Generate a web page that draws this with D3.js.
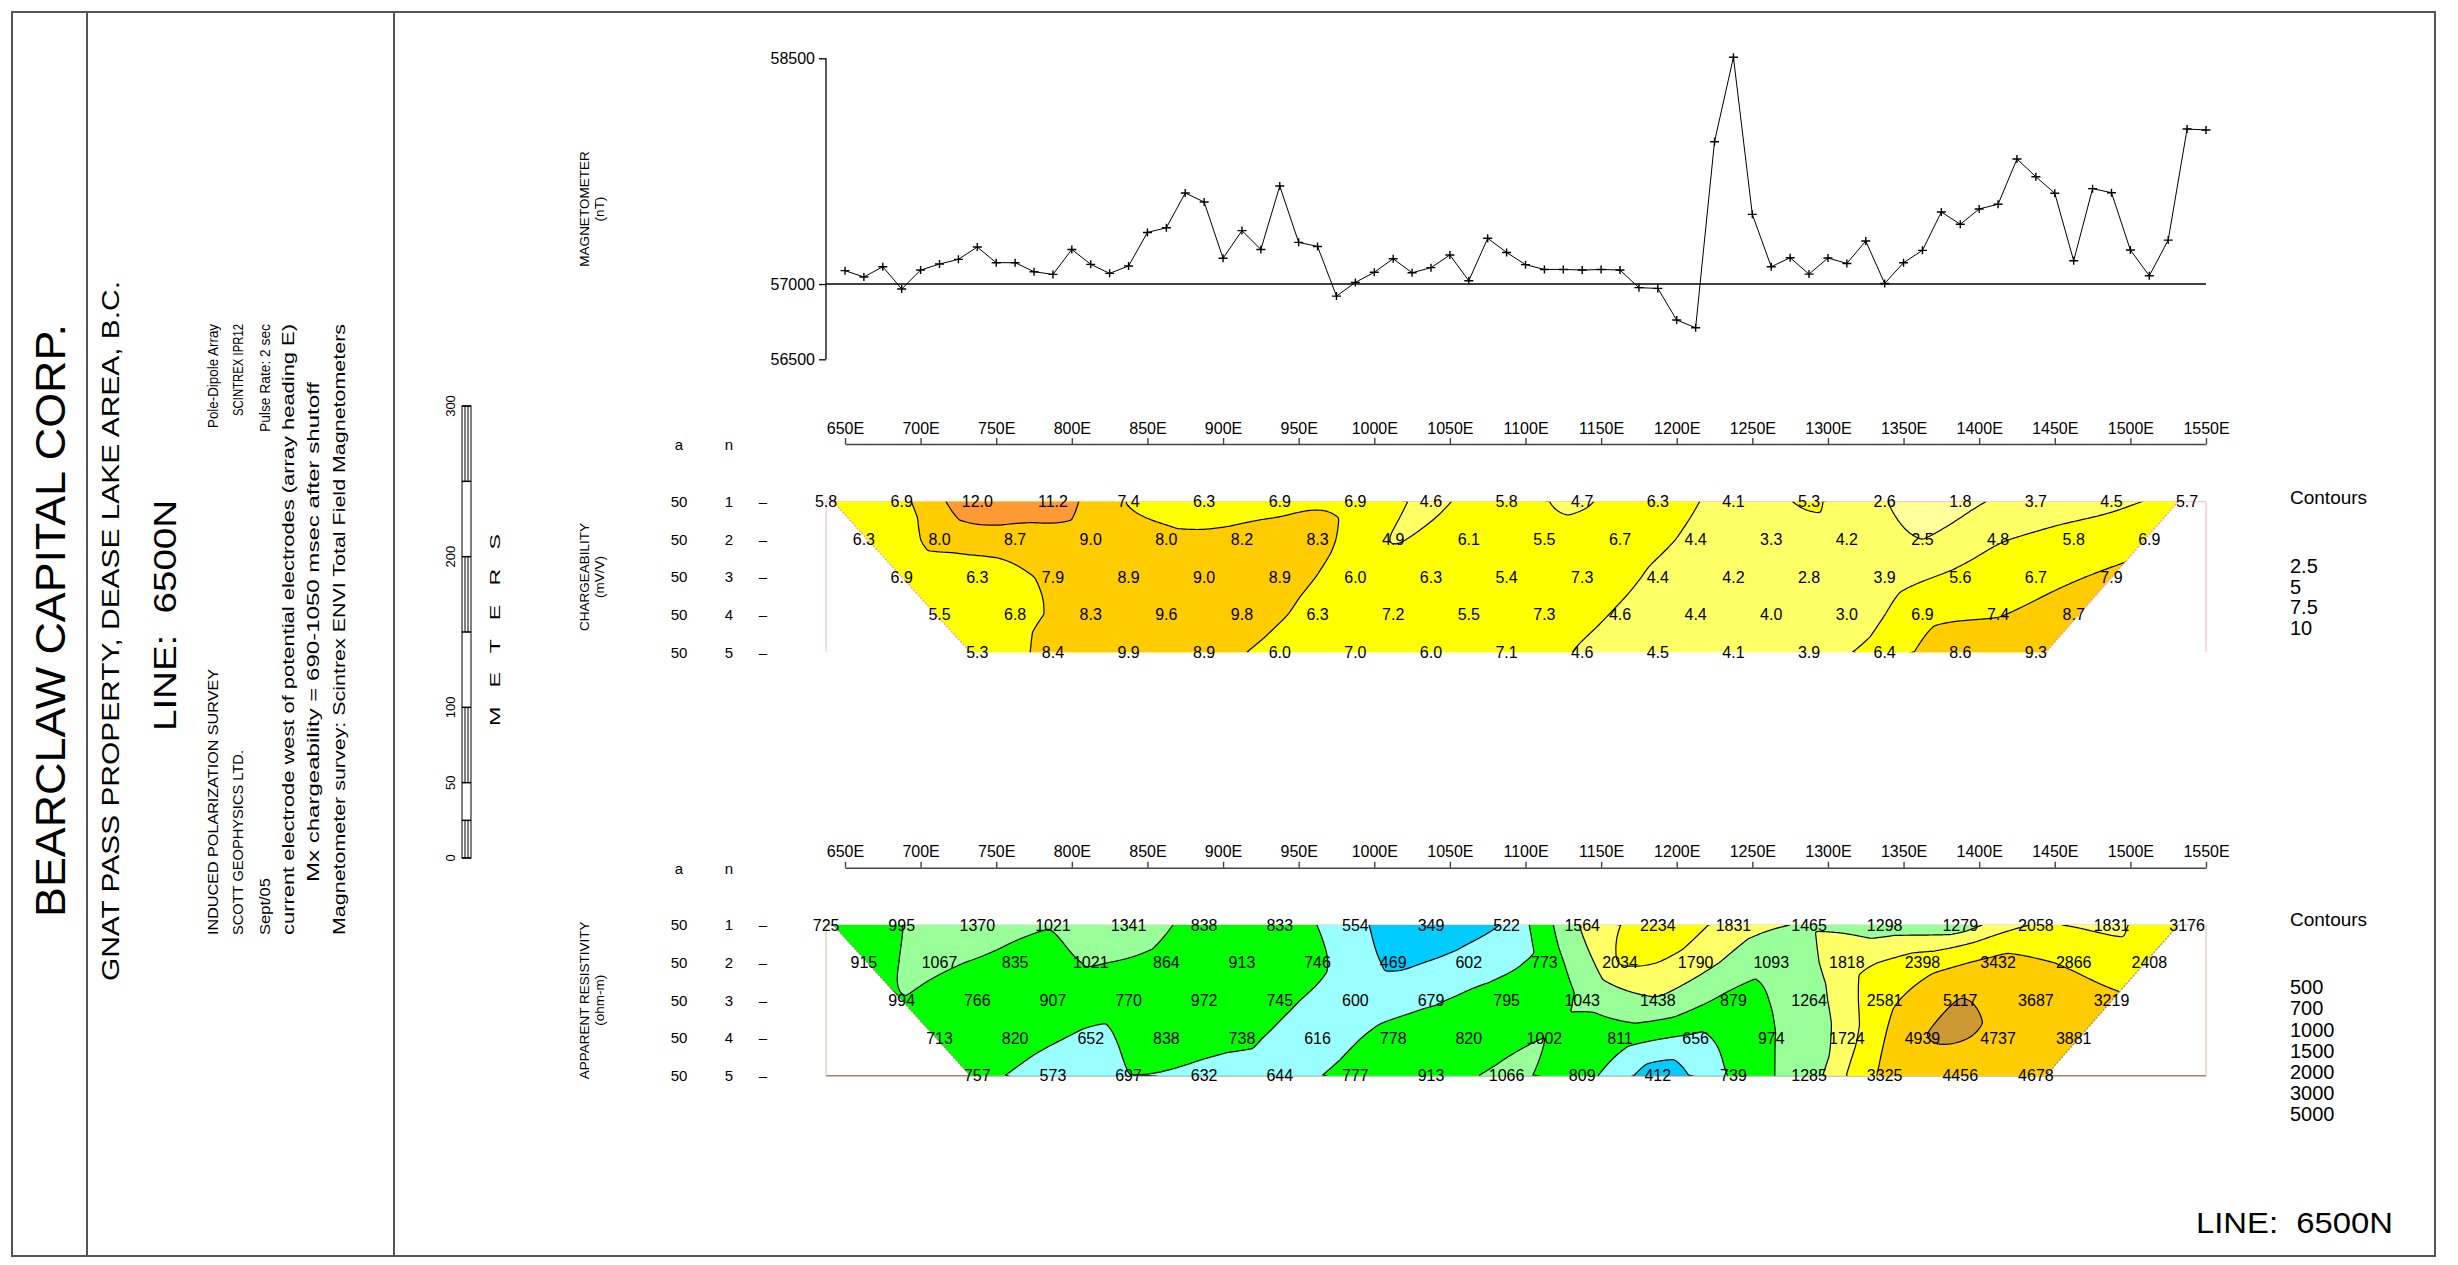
<!DOCTYPE html>
<html>
<head>
<meta charset="utf-8">
<script src="https://cdn.jsdelivr.net/npm/d3@7"></script>
<style>
html,body{margin:0;padding:0;background:#fff;}
svg{display:block;background:#fff;}
text{font-family:"Liberation Sans",Arial,sans-serif;fill:#000;white-space:pre;}
</style>
</head>
<body>
<svg id="chart" width="2458" height="1265"></svg>
<script>
// ---------------- DATA ----------------
const tickStations = [650,700,750,800,850,900,950,1000,1050,1100,1150,1200,1250,1300,1350,1400,1450,1500,1550];
const tickLabels = ["650E","700E","750E","800E","850E","900E","950E","1000E","1050E","1100E","1150E","1200E","1250E","1300E","1350E","1400E","1450E","1500E","1550E"];

// magnetometer readings every 12.5 m from 650E to 1550E
const magValues = [57089,57047,57115,56967,57093,57133,57164,57246,57142,57142,57082,57064,57230,57131,57071,57120,57343,57374,57605,57545,57171,57355,57230,57651,57277,57250,56920,57011,57078,57168,
  57075,57109,57193,57022,57304,57210,57129,57097,57097,57093,57097,57093,56976,56971,56761,56710,57946,58507,57463,57115,57175,57066,57173,57137,57286,57004,57142,57224,57479,57397,57499,57530,57831,57713,57603,57155,57634,57607,57226,57055,57292,58030,58024];
const magStations = d3.range(magValues.length).map(i => 650 + 12.5 * i);
const magTicks = [56500, 57000, 58500];

const rowA = ["50","50","50","50","50"];
const rowN = ["1","2","3","4","5"];

// chargeability (mV/V), n = 1..5
const chgN1 = [5.8,6.9,12.0,11.2,7.4,6.3,6.9,6.9,4.6,5.8,4.7,6.3,4.1,5.3,2.6,1.8,3.7,4.5,5.7];
const chgN2 = [6.3,8.0,8.7,9.0,8.0,8.2,8.3,4.9,6.1,5.5,6.7,4.4,3.3,4.2,2.5,4.8,5.8,6.9];
const chgN3 = [6.9,6.3,7.9,8.9,9.0,8.9,6.0,6.3,5.4,7.3,4.4,4.2,2.8,3.9,5.6,6.7,7.9];
const chgN4 = [5.5,6.8,8.3,9.6,9.8,6.3,7.2,5.5,7.3,4.6,4.4,4.0,3.0,6.9,7.4,8.7];
const chgN5 = [5.3,8.4,9.9,8.9,6.0,7.0,6.0,7.1,4.6,4.5,4.1,3.9,6.4,8.6,9.3];

// apparent resistivity (ohm-m), n = 1..5
const resN1 = [725,995,1370,1021,1341,838,833,554,349,522,1564,2234,1831,1465,1298,1279,2058,1831,3176];
const resN2 = [915,1067,835,1021,864,913,746,469,602,773,2034,1790,1093,1818,2398,3432,2866,2408];
const resN3 = [994,766,907,770,972,745,600,679,795,1043,1438,879,1264,2581,5117,3687,3219];
const resN4 = [713,820,652,838,738,616,778,820,1002,811,656,974,1724,4939,4737,3881];
const resN5 = [757,573,697,632,644,777,913,1066,809,412,739,1285,3325,4456,4678];

const chgContours = [2.5, 5, 7.5, 10];
const chgContourLabels = ["2.5","5","7.5","10"];
const chgColors = ["#ffff99","#ffff66","#ffff00","#ffcc00","#ff9933"];

const resContours = [500, 700, 1000, 1500, 2000, 3000, 5000];
const resContourLabels = ["500","700","1000","1500","2000","3000","5000"];
const resColors = ["#00ccff","#99ffff","#00ff00","#99ff99","#ffff66","#ffff00","#ffcc00","#cc9933"];

const scaleTicks = [0, 50, 100, 200, 300];
const scaleHatched = [[0,25],[50,100],[150,200],[250,300]];
const scaleBounds = [0,25,50,100,150,200,250,300];

// ---------------- CHART ----------------
const svg = d3.select("#chart");
const x = d3.scaleLinear().domain([650, 1550]).range([845, 2206]);

// frame
const frame = svg.append("g").attr("stroke", "#555").attr("stroke-width", 2).attr("fill", "none");
frame.append("rect").attr("x", 12).attr("y", 12).attr("width", 2423).attr("height", 1244);
frame.append("line").attr("x1", 87).attr("x2", 87).attr("y1", 12).attr("y2", 1256);
frame.append("line").attr("x1", 394).attr("x2", 394).attr("y1", 12).attr("y2", 1256);

// left title block (rotated text)
function vtext(xp, yp, str, size, anchor, len) {
  const t = svg.append("text")
    .attr("transform", `translate(${xp},${yp}) rotate(-90)`)
    .attr("font-size", size)
    .attr("text-anchor", anchor)
    .text(str);
  if (len) t.attr("textLength", len).attr("lengthAdjust", "spacingAndGlyphs");
  return t;
}
vtext(65, 917, "BEARCLAW CAPITAL CORP.", 42, "start", 593);
vtext(119, 981, "GNAT PASS PROPERTY, DEASE LAKE AREA, B.C.", 24, "start", 700);
vtext(176, 731, "LINE:  6500N", 31, "start", 231);
vtext(218, 935, "INDUCED POLARIZATION SURVEY", 15, "start", 266);
vtext(218, 324, "Pole-Dipole Array", 15, "end", 104);
vtext(243, 935, "SCOTT GEOPHYSICS LTD.", 15, "start", 185);
vtext(243, 324, "SCINTREX IPR12", 15, "end", 92);
vtext(270, 935, "Sept/05", 15, "start", 57);
vtext(270, 324, "Pulse Rate: 2 sec", 15, "end", 108);
vtext(294, 935, "current electrode west of potential electrodes (array heading E)", 16, "start", 611);
vtext(319, 632, "Mx chargeability = 690-1050 msec after shutoff", 16, "middle", 500);
vtext(345, 935, "Magnetometer survey: Scintrex ENVI Total Field Magnetometers", 16, "start", 611);

// scale bar
const yS = d3.scaleLinear().domain([0, 300]).range([858, 406]);
const sb = svg.append("g").attr("stroke", "#000").attr("stroke-width", 1).attr("fill", "none");
sb.append("rect").attr("x", 462).attr("y", yS(300)).attr("width", 9).attr("height", yS(0) - yS(300));
scaleBounds.forEach(b => sb.append("line").attr("x1", 462).attr("x2", 471).attr("y1", yS(b)).attr("y2", yS(b)).attr("stroke-width", 1.5));
scaleHatched.forEach(([a, b]) => {
  [465, 468].forEach(xx => sb.append("line").attr("x1", xx).attr("x2", xx).attr("y1", yS(a)).attr("y2", yS(b)));
});
scaleTicks.forEach(t => vtext(455, yS(t), String(t), 13, "middle"));
vtext(500, 630, "M   E   T   E   R   S", 14, "middle", 192);

// ---------------- MAGNETOMETER ----------------
const yMag = d3.scaleLinear().domain([56500, 58500]).range([359.3, 58.3]);
const magAxis = svg.append("g").attr("transform", "translate(826,0)")
  .call(d3.axisLeft(yMag).tickValues(magTicks).tickSize(7).tickPadding(4).tickFormat(d3.format("d")));
magAxis.select(".domain").remove();
magAxis.selectAll("line").attr("stroke", "#000").attr("stroke-width", 1.3);
magAxis.selectAll("text").attr("font-size", 16).attr("font-family", "Liberation Sans, Arial, sans-serif");
svg.append("line").attr("x1", 826).attr("x2", 826).attr("y1", yMag(58500)).attr("y2", yMag(56500)).attr("stroke", "#000").attr("stroke-width", 1.3);
svg.append("line").attr("x1", 826).attr("x2", x(1550)).attr("y1", yMag(57000)).attr("y2", yMag(57000)).attr("stroke", "#000").attr("stroke-width", 1.5);
svg.append("path")
  .attr("d", d3.line().x((d, i) => x(magStations[i])).y(d => yMag(d))(magValues))
  .attr("fill", "none").attr("stroke", "#000").attr("stroke-width", 1);
svg.append("g").selectAll("path").data(magValues).join("path")
  .attr("transform", (d, i) => `translate(${x(magStations[i])},${yMag(d)})`)
  .attr("d", "M-4.5,0H4.5M0,-4V4").attr("stroke", "#000").attr("stroke-width", 1.4);

vtext(589, 209, "MAGNETOMETER", 13.5, "middle");
vtext(604, 209, "(nT)", 13.5, "middle");

// ---------------- interpolation helpers ----------------
function tpsFit(pts, vals, lambda) {
  const n = pts.length, m = n + 3;
  const U = r => r > 0 ? r * r * Math.log(r) : 0;
  const A = [];
  for (let i = 0; i < m; i++) A.push(new Float64Array(m + 1));
  for (let i = 0; i < n; i++) {
    for (let j = 0; j < n; j++) {
      const dx = pts[i][0] - pts[j][0], dy = pts[i][1] - pts[j][1];
      A[i][j] = i === j ? lambda : U(Math.sqrt(dx * dx + dy * dy));
    }
    A[i][n] = 1; A[i][n + 1] = pts[i][0]; A[i][n + 2] = pts[i][1];
    A[n][i] = 1; A[n + 1][i] = pts[i][0]; A[n + 2][i] = pts[i][1];
    A[i][m] = vals[i];
  }
  for (let c = 0; c < m; c++) {
    let p = c;
    for (let r = c + 1; r < m; r++) if (Math.abs(A[r][c]) > Math.abs(A[p][c])) p = r;
    const tmp = A[c]; A[c] = A[p]; A[p] = tmp;
    const piv = A[c][c];
    for (let r = 0; r < m; r++) {
      if (r === c) continue;
      const f = A[r][c] / piv;
      if (f === 0) continue;
      for (let k = c; k <= m; k++) A[r][k] -= f * A[c][k];
    }
  }
  const sol = A.map((row, i) => row[m] / row[i]);
  const w = sol.slice(0, n), a0 = sol[n], a1 = sol[n + 1], a2 = sol[n + 2];
  return (px, py) => {
    let s = a0 + a1 * px + a2 * py;
    for (let i = 0; i < n; i++) {
      const dx = px - pts[i][0], dy = py - pts[i][1];
      s += w[i] * U(Math.sqrt(dx * dx + dy * dy));
    }
    return s;
  };
}

// ---------------- PSEUDOSECTIONS ----------------
function drawSection(o) {
  const rowY = d3.scaleLinear().domain([1, 5]).range([o.y1, o.y5]);
  const pos = (n, k) => x(650 + 25 * (n - 1) + 50 * k - 12.5);
  const rows = o.rows;

  // axis
  const ax = svg.append("g").attr("transform", `translate(0,${o.axisY})`)
    .call(d3.axisTop(x).tickValues(tickStations).tickFormat((d, i) => tickLabels[i]).tickSize(6).tickSizeOuter(0).tickPadding(4.5));
  ax.select(".domain").attr("stroke", "#444").attr("stroke-width", 1.6);
  ax.selectAll("line").attr("stroke", "#444").attr("stroke-width", 1.4);
  ax.selectAll("text").attr("font-size", 16).attr("font-family", "Liberation Sans, Arial, sans-serif");

  // bounding rect
  const r1 = rowY(1), r5 = rowY(5);
  const xl = pos(1, 0), xr = x(1550);
  const fr = svg.append("g").attr("fill", "none").attr("stroke-width", 1.2);
  fr.append("line").attr("x1", xl).attr("x2", xr).attr("y1", r1).attr("y2", r1).attr("stroke", o.rectStroke);
  fr.append("line").attr("x1", xl).attr("x2", xl).attr("y1", r1).attr("y2", r5).attr("stroke", o.rectStroke);
  fr.append("line").attr("x1", xr).attr("x2", xr).attr("y1", r1).attr("y2", r5).attr("stroke", o.rectStroke);
  if (o.rectBottom) fr.append("line").attr("x1", xl).attr("x2", xr).attr("y1", r5).attr("y2", r5).attr("stroke", o.rectBottom).attr("stroke-width", 1.6);

  // trapezoid
  const last1 = rows[0].length - 1, last5 = rows[4].length - 1;
  const trap = [[pos(1, 0) + 7, r1], [pos(1, last1) - 9, r1], [pos(5, last5) + 10, r5], [pos(5, 0) - 7, r5]];
  const trapD = "M" + trap.map(p => p.join(",")).join("L") + "Z";
  svg.append("clipPath").attr("id", o.id).append("path").attr("d", trapD);

  // interpolation grid: blend of thin-plate spline and linear strip triangulation
  const S = 37.7;
  const pts = [], vals = [];
  rows.forEach((arr, ri) => arr.forEach((v, k) => { pts.push([pos(ri + 1, k) / S, rowY(ri + 1) / S]); vals.push(o.tf(v)); }));
  const f = tpsFit(pts, vals, o.lambda);
  const step = 2, gx0 = 812, gy0 = r1 - 10, gx1 = 2218, gy1 = r5 + 10;
  const nx = Math.ceil((gx1 - gx0) / step) + 1, ny = Math.ceil((gy1 - gy0) / step) + 1;
  const lin = new Float64Array(nx * ny).fill(NaN);
  const P = (r, k) => [pos(r + 1, k), rowY(r + 1), o.tf(rows[r][k])];
  const tris = [];
  for (let r = 0; r < 4; r++) {
    const N = rows[r].length;
    for (let k = 0; k < N - 1; k++) tris.push([P(r, k), P(r, k + 1), P(r + 1, k)]);
    for (let k = 0; k < N - 2; k++) tris.push([P(r + 1, k), P(r + 1, k + 1), P(r, k + 1)]);
  }
  tris.forEach(([a, b, c]) => {
    const minX = Math.min(a[0], b[0], c[0]), maxX = Math.max(a[0], b[0], c[0]);
    const minY = Math.min(a[1], b[1], c[1]), maxY = Math.max(a[1], b[1], c[1]);
    const det = (b[1] - c[1]) * (a[0] - c[0]) + (c[0] - b[0]) * (a[1] - c[1]);
    for (let j = Math.max(0, Math.floor((minY - gy0) / step)); j <= Math.min(ny - 1, Math.ceil((maxY - gy0) / step)); j++) {
      const py = gy0 + j * step;
      for (let i = Math.max(0, Math.floor((minX - gx0) / step)); i <= Math.min(nx - 1, Math.ceil((maxX - gx0) / step)); i++) {
        const px = gx0 + i * step;
        const l1 = ((b[1] - c[1]) * (px - c[0]) + (c[0] - b[0]) * (py - c[1])) / det;
        const l2 = ((c[1] - a[1]) * (px - c[0]) + (a[0] - c[0]) * (py - c[1])) / det;
        const l3 = 1 - l1 - l2;
        if (l1 >= -1e-9 && l2 >= -1e-9 && l3 >= -1e-9) lin[j * nx + i] = l1 * a[2] + l2 * b[2] + l3 * c[2];
      }
    }
  });
  const grid = new Array(nx * ny);
  for (let j = 0; j < ny; j++) for (let i = 0; i < nx; i++) {
    const t = f((gx0 + i * step) / S, (gy0 + j * step) / S);
    const l = lin[j * nx + i];
    grid[j * nx + i] = isNaN(l) ? t : o.alpha * t + (1 - o.alpha) * l;
  }
  const cs = d3.contours().size([nx, ny]).thresholds(o.thresholds.map(o.tf))(grid);
  const proj = d3.geoTransform({ point(px, py) { this.stream.point(gx0 + (px - 0.5) * step, gy0 + (py - 0.5) * step); } });
  const path = d3.geoPath(proj);

  const g = svg.append("g").attr("clip-path", `url(#${o.id})`);
  g.append("path").attr("d", trapD).attr("fill", o.colors[0]);
  g.selectAll("path.band").data(cs).join("path").attr("class", "band")
    .attr("d", path).attr("fill", (d, i) => o.colors[i + 1]).attr("stroke", "none");
  g.selectAll("path.iso").data(cs).join("path").attr("class", "iso")
    .attr("d", path).attr("fill", "none").attr("stroke", "#000").attr("stroke-width", 1.2);

  // slanted edges
  svg.append("path").attr("d", `M${trap[0][0]},${trap[0][1]}L${trap[3][0]},${trap[3][1]}M${trap[1][0]},${trap[1][1]}L${trap[2][0]},${trap[2][1]}`)
    .attr("fill", "none").attr("stroke", o.edgeStroke).attr("stroke-width", 1.2).attr("stroke-dasharray", "2,1.5");

  // value labels
  const lab = svg.append("g").attr("font-size", 16).attr("text-anchor", "middle");
  rows.forEach((arr, ri) => arr.forEach((v, k) => {
    lab.append("text").attr("x", pos(ri + 1, k)).attr("y", rowY(ri + 1)).attr("dy", "0.36em").text(o.fmt(v));
  }));

  // row labels
  const rl = svg.append("g").attr("font-size", 15).attr("text-anchor", "middle");
  rl.append("text").attr("x", 679).attr("y", o.axisY + 1).attr("dy", "0.36em").text("a");
  rl.append("text").attr("x", 729).attr("y", o.axisY + 1).attr("dy", "0.36em").text("n");
  rowN.forEach((nn, i) => {
    rl.append("text").attr("x", 679).attr("y", rowY(i + 1)).attr("dy", "0.36em").text(rowA[i]);
    rl.append("text").attr("x", 729).attr("y", rowY(i + 1)).attr("dy", "0.36em").text(nn);
    rl.append("text").attr("x", 763).attr("y", rowY(i + 1)).attr("dy", "0.36em").text("–");
  });

  // section title
  vtext(589, rowY(3), o.title, 13.5, "middle");
  vtext(604, rowY(3), o.unit, 13.5, "middle");

  // legend
  const lg = svg.append("g").attr("text-anchor", "start");
  lg.append("text").attr("x", 2290).attr("y", o.legTitleY).attr("dy", "0.36em").attr("font-size", 19).text("Contours");
  o.legLabels.forEach((t, i) => {
    lg.append("text").attr("x", 2290).attr("y", o.legY0 + i * o.legStep).attr("dy", "0.36em").attr("font-size", 20).text(t);
  });
}

drawSection({
  id: "clipChg", rows: [chgN1, chgN2, chgN3, chgN4, chgN5], y1: 501.7, y5: 652.3, axisY: 444,
  thresholds: chgContours, colors: chgColors, tf: v => v, fmt: v => v.toFixed(1), lambda: 0, alpha: 0.55,
  rectStroke: "#f7bfd3", rectBottom: null, edgeStroke: "#ff8cc0",
  title: "CHARGEABILITY", unit: "(mV/V)",
  legTitleY: 497, legY0: 566, legStep: 20.6, legLabels: chgContourLabels
});
drawSection({
  id: "clipRes", rows: [resN1, resN2, resN3, resN4, resN5], y1: 925, y5: 1075.7, axisY: 867.7,
  thresholds: resContours, colors: resColors, tf: v => Math.log10(v), fmt: v => String(v), lambda: 0.05, alpha: 0.45,
  rectStroke: "#d9c9b4", rectBottom: "#a4856a", edgeStroke: "#a88a6c",
  title: "APPARENT RESISTIVITY", unit: "(ohm-m)",
  legTitleY: 919, legY0: 987, legStep: 21.2, legLabels: resContourLabels
});

// bottom-right title
svg.append("text").attr("x", 2196).attr("y", 1233).attr("font-size", 30)
  .attr("textLength", 197).attr("lengthAdjust", "spacingAndGlyphs").text("LINE:  6500N");
</script>
</body>
</html>
